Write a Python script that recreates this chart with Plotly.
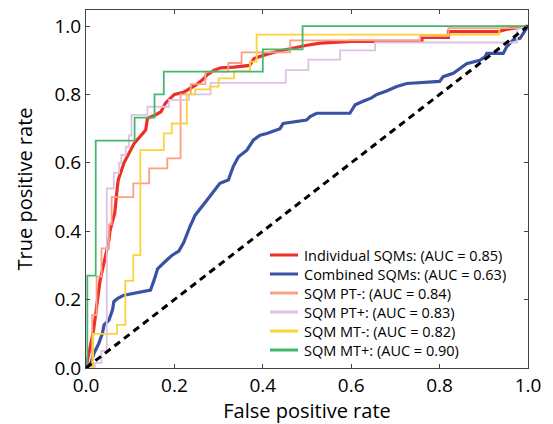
import plotly.graph_objects as go

# ROC curves: false positive rate (x) vs true positive rate (y)
ind_fpr = [0, 0.005, 0.017, 0.032, 0.045, 0.052, 0.054, 0.065, 0.071, 0.073, 0.086, 0.109,
           0.135, 0.139, 0.157, 0.17, 0.18, 0.20, 0.22, 0.237, 0.248, 0.263, 0.274, 0.29,
           0.305, 0.335, 0.37, 0.38, 0.41, 0.44, 0.47, 0.50, 0.53, 0.60, 0.76, 0.76, 0.82,
           0.82, 0.933, 0.95, 1.0]
ind_tpr = [0, 0.03, 0.11, 0.257, 0.33, 0.374, 0.40, 0.453, 0.53, 0.55, 0.60, 0.657,
           0.696, 0.73, 0.74, 0.75, 0.775, 0.80, 0.806, 0.818, 0.827, 0.842, 0.857, 0.871,
           0.878, 0.88, 0.885, 0.905, 0.918, 0.928, 0.937, 0.944, 0.95, 0.955, 0.955, 0.967, 0.967,
           0.984, 0.984, 0.99, 1.0]

comb_fpr = [0, 0.011, 0.018, 0.029, 0.037, 0.041, 0.052, 0.06, 0.063, 0.071, 0.086, 0.109,
            0.127, 0.146, 0.154, 0.162, 0.178, 0.195, 0.21, 0.221, 0.235, 0.247, 0.273, 0.29,
            0.303, 0.322, 0.333, 0.345, 0.364, 0.379, 0.394, 0.409, 0.439, 0.446, 0.469, 0.499,
            0.507, 0.522, 0.597, 0.609, 0.627, 0.646, 0.658, 0.68, 0.703, 0.726, 0.80, 0.808,
            0.831, 0.846, 0.861, 0.891, 0.903, 0.907, 0.944, 0.952, 0.967, 0.982, 0.989, 1.0]
comb_tpr = [0, 0.014, 0.043, 0.072, 0.101, 0.126, 0.14, 0.17, 0.194, 0.203, 0.213, 0.218,
            0.223, 0.228, 0.257, 0.29, 0.31, 0.33, 0.342, 0.367, 0.413, 0.447, 0.49, 0.52,
            0.54, 0.55, 0.589, 0.618, 0.637, 0.667, 0.681, 0.686, 0.70, 0.715, 0.72, 0.725,
            0.735, 0.745, 0.745, 0.77, 0.78, 0.79, 0.80, 0.81, 0.823, 0.832, 0.838, 0.852,
            0.862, 0.876, 0.89, 0.90, 0.91, 0.92, 0.92, 0.94, 0.96, 0.964, 0.978, 1.0]

ptm_fpr = [0, 0.014, 0.014, 0.024, 0.024, 0.035, 0.035, 0.052, 0.052, 0.058, 0.058, 0.107,
           0.107, 0.143, 0.143, 0.184, 0.184, 0.214, 0.214, 0.237, 0.237, 0.27, 0.27, 0.322,
           0.322, 0.352, 0.352, 0.462, 0.462, 0.756, 0.756, 0.82, 0.82, 1.0, 1.0]
ptm_tpr = [0, 0, 0.155, 0.155, 0.267, 0.267, 0.35, 0.35, 0.42, 0.42, 0.50, 0.50,
           0.54, 0.54, 0.584, 0.584, 0.613, 0.613, 0.80, 0.80, 0.83, 0.83, 0.867, 0.867,
           0.892, 0.892, 0.923, 0.923, 0.958, 0.958, 0.971, 0.971, 0.994, 0.994, 1.0]

ptp_fpr = [0, 0.02, 0.02, 0.035, 0.035, 0.047, 0.047, 0.063, 0.063, 0.075, 0.075, 0.08,
           0.08, 0.09, 0.09, 0.097, 0.097, 0.103, 0.103, 0.139, 0.139, 0.188, 0.188, 0.233,
           0.233, 0.282, 0.282, 0.452, 0.452, 0.503, 0.503, 0.575, 0.575, 0.654, 0.654, 0.975,
           0.975, 1.0]
ptp_tpr = [0, 0, 0.015, 0.015, 0.05, 0.05, 0.525, 0.525, 0.571, 0.571, 0.60, 0.60,
           0.623, 0.623, 0.647, 0.647, 0.68, 0.68, 0.74, 0.74, 0.764, 0.764, 0.784, 0.784,
           0.80, 0.80, 0.834, 0.834, 0.871, 0.871, 0.902, 0.902, 0.929, 0.929, 0.952, 0.952,
           0.99, 1.0]

mtm_fpr = [0, 0.016, 0.016, 0.07, 0.07, 0.089, 0.089, 0.107, 0.107, 0.123, 0.123, 0.176,
           0.176, 0.194, 0.194, 0.228, 0.228, 0.247, 0.247, 0.28, 0.28, 0.30, 0.30, 0.335,
           0.335, 0.371, 0.371, 0.386, 0.386, 0.935, 0.935, 1.0]
mtm_tpr = [0, 0, 0.10, 0.10, 0.126, 0.126, 0.255, 0.255, 0.33, 0.33, 0.637, 0.637,
           0.686, 0.686, 0.715, 0.715, 0.80, 0.80, 0.815, 0.815, 0.823, 0.823, 0.847, 0.847,
           0.868, 0.868, 0.896, 0.896, 0.975, 0.975, 1.0, 1.0]

mtp_fpr = [0, 0.003, 0.003, 0.022, 0.022, 0.11, 0.11, 0.155, 0.155, 0.176, 0.176, 0.40,
           0.40, 0.49, 0.49, 1.0]
mtp_tpr = [0, 0, 0.27, 0.27, 0.665, 0.665, 0.732, 0.732, 0.80, 0.80, 0.867, 0.867,
           0.932, 0.932, 1.0, 1.0]

names = ["Individual SQMs: (AUC = 0.85)", "Combined SQMs: (AUC = 0.63)",
         "SQM PT-: (AUC = 0.84)", "SQM PT+: (AUC = 0.83)",
         "SQM MT-: (AUC = 0.82)", "SQM MT+: (AUC = 0.90)"]
colors = ["#ee2f27", "#3852a4", "#f9a085", "#dcc2e4", "#fbd23a", "#45b86e"]
widths = [3.2, 3.2, 1.8, 1.8, 1.8, 1.8]
curves = [(ind_fpr, ind_tpr), (comb_fpr, comb_tpr), (ptm_fpr, ptm_tpr),
          (ptp_fpr, ptp_tpr), (mtm_fpr, mtm_tpr), (mtp_fpr, mtp_tpr)]

FONT = "Open Sans"
W, H = 553, 424
ML, MR, MT, MB = 86, 25, 10, 56

fig = go.Figure()
for (x, y), name, c, w in zip(curves, names, colors, widths):
    fig.add_trace(go.Scatter(x=x, y=y, mode="lines", name=name, showlegend=False,
                             line=dict(color=c, width=w)))

# chance line
fig.add_trace(go.Scatter(x=[0, 1], y=[0, 1], mode="lines", showlegend=False,
                         line=dict(color="black", width=3, dash="7px,5px")))

# legend drawn as key lines + labels in paper coordinates
plot_w = W - ML - MR
plot_h = H - MT - MB


def px_to_paper(px, py):
    return (px - ML) / plot_w, (H - MB - py) / plot_h


row0, row_gap = 255, 19
for i, (name, c) in enumerate(zip(names, colors)):
    py = row0 + i * row_gap
    x0, yy = px_to_paper(270, py)
    x1, _ = px_to_paper(298, py)
    xt, _ = px_to_paper(302, py)
    fig.add_shape(type="line", xref="paper", yref="paper", x0=x0, x1=x1, y0=yy, y1=yy,
                  line=dict(color=c, width=3))
    fig.add_annotation(xref="paper", yref="paper", x=xt, y=yy, text=name,
                       showarrow=False, xanchor="left", yanchor="middle",
                       font=dict(family=FONT, size=14.5, color="black"))

axis_common = dict(showgrid=False, zeroline=False, showline=True, linecolor="#444",
                   linewidth=1, mirror="allticks", ticks="inside", ticklen=4,
                   tickcolor="#444", tickformat=".1f", dtick=0.2, automargin=False,
                   tickfont=dict(family=FONT, size=19, color="black"))

fig.update_layout(
    width=W, height=H,
    margin=dict(l=ML, r=MR, t=MT, b=MB),
    paper_bgcolor="white", plot_bgcolor="white",
    font=dict(family=FONT, color="black"),
    xaxis=dict(range=[0, 1], title=dict(text="False positive rate",
               font=dict(family=FONT, size=20), standoff=6), **axis_common),
    yaxis=dict(range=[0, 1.047], title=dict(text="True positive rate",
               font=dict(family=FONT, size=20), standoff=16), **axis_common),
)

fig.write_html("out.html")
